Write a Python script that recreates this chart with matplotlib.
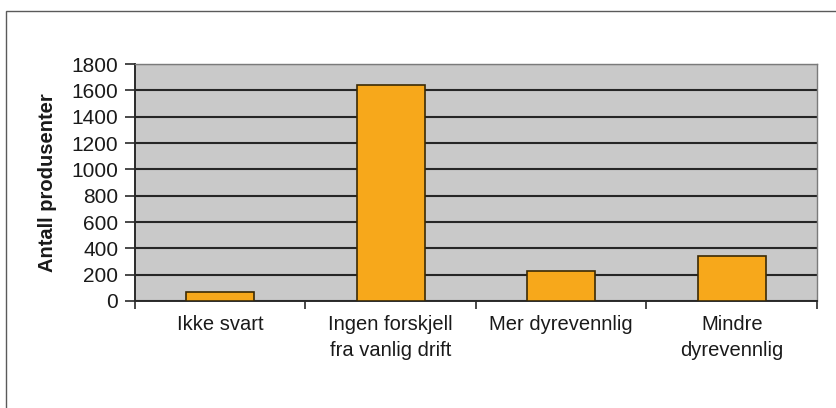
import matplotlib
matplotlib.use("Agg")
import matplotlib.pyplot as plt
from matplotlib.patches import Rectangle

categories = ["Ikke svart", "Ingen forskjell\nfra vanlig drift", "Mer dyrevennlig", "Mindre\ndyrevennlig"]
values = [70, 1640, 230, 345]
yticks = [0, 200, 400, 600, 800, 1000, 1200, 1400, 1600, 1800]
ylabel = "Antall produsenter"

plt.rcParams['font.family'] = ['Liberation Sans', 'DejaVu Sans']

fig = plt.figure(figsize=(8.37, 4.08), dpi=100)
fig.patch.set_facecolor('white')
# outer frame (left and top visible)
fig.patches.append(Rectangle((6/837, -0.5), 2.0, 1 - 11/408 + 0.5, transform=fig.transFigure,
                             fill=False, edgecolor='#5a5a5a', linewidth=1.0))

ax = fig.add_axes([135/837, 1 - 301/408, (817-135)/837, (301-64)/408])
ax.set_facecolor('#c9c9c9')
x = list(range(len(categories)))
ax.bar(x, values, width=0.4, color='#f7a81b', edgecolor='#3b2a05', linewidth=1.2, zorder=3)

ax.set_xlim(-0.5, len(categories) - 0.5)
ax.set_ylim(0, 1800)
ax.set_yticks(yticks)
ax.set_yticklabels([str(v) for v in yticks], fontsize=15, color='#1a1a1a')
ax.yaxis.grid(True, color='#262626', linewidth=1.5, zorder=1)
ax.set_axisbelow(True)
ax.tick_params(axis='y', length=7, width=1.2, color='#2a2a2a', pad=5)

ax.set_xticks(x)
ax.set_xticklabels(categories, fontsize=14.5, color='#1a1a1a', linespacing=1.45)
ax.tick_params(axis='x', which='major', length=0, pad=10)
ax.set_xticks([i - 0.5 for i in range(len(categories) + 1)], minor=True)
ax.tick_params(axis='x', which='minor', length=6, width=1.2, color='#2a2a2a')

for s in ['left', 'bottom']:
    ax.spines[s].set_color('#2a2a2a')
    ax.spines[s].set_linewidth(1.4)
for s in ['top', 'right']:
    ax.spines[s].set_color('#7a7a7a')
    ax.spines[s].set_linewidth(1.0)

ax.set_ylabel(ylabel, fontsize=14.5, fontweight='bold', color='#1a1a1a')
ax.yaxis.set_label_coords(-0.114, 0.5)

fig.savefig("out.png", dpi=100)
